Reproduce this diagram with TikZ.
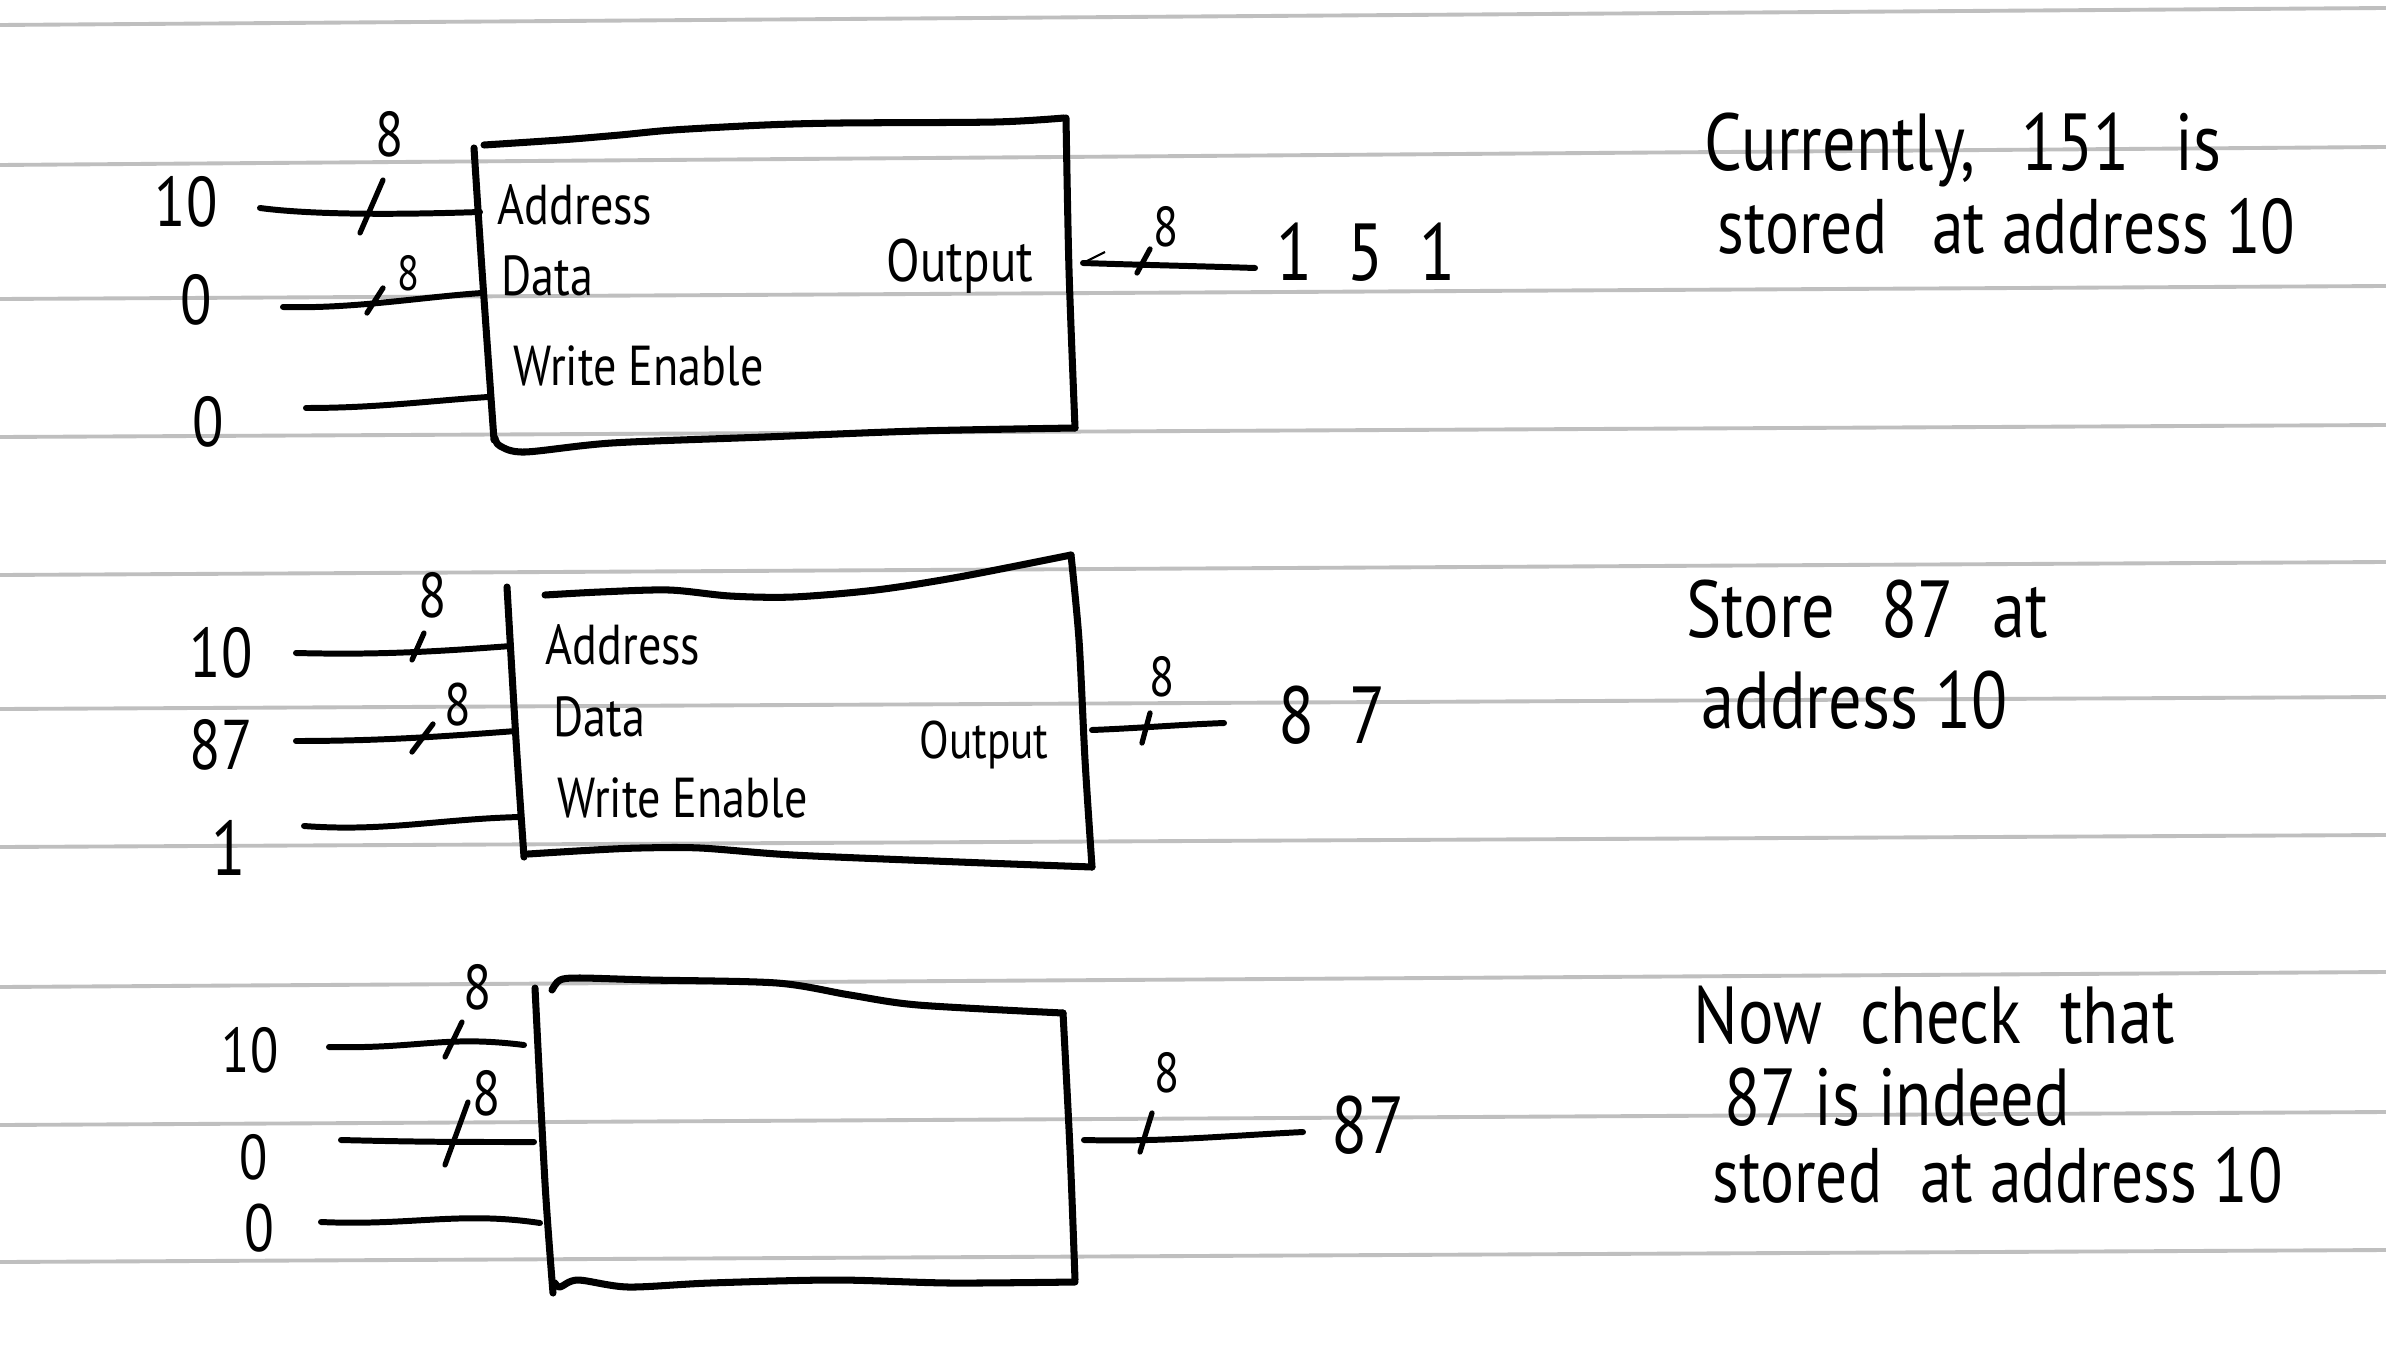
\documentclass[tikz,border=0pt]{standalone}
\usepackage{fontspec}
\newfontfamily\hand[FakeStretch=0.82]{PT Sans}
\newcommand{\fsz}[1]{\hand\fontsize{#1}{#1}\selectfont}
\begin{document}
\begin{tikzpicture}[x=0.01cm,y=-0.01cm,
  ruled/.style={draw=black!25,line width=1.1pt},
  ink/.style={line width=1.7pt,line cap=round,line join=round},
  boxline/.style={line width=2pt,line cap=round,line join=round},
  slashmark/.style={line width=1.5pt,line cap=round},
  tick/.style={line width=0.6pt},
  val/.style={inner sep=0pt,font=\fsz{20}},
  width/.style={inner sep=0pt,font=\fsz{16}},
  port/.style={inner sep=0pt,anchor=west,font=\fsz{16}},
  note/.style={inner sep=0pt,anchor=west,font=\fsz{23}}]
\useasboundingbox (0,0) rectangle (2386,1352);
\fill[white] (0,0) rectangle (2386,1352);
% ruled lines
\foreach \a/\b in {25/8,165/147,299/286,437/425,575/562,709/697,847/835,987/972,1125/1112,1262/1250}
  \draw[ruled] (0,\a) -- (2386,\b);

% ---------- Box 1 ----------
\draw[boxline] plot[smooth,tension=0.5] coordinates {(484,145) (560,140) (620,135) (673,130) (765,125) (842,123) (995,122) (1064,118)};
\draw[boxline] plot[smooth,tension=0.5] coordinates {(1066,118) (1069,270) (1075,428)};
\draw[boxline] plot[smooth,tension=0.5] coordinates {(1075,428) (918,431) (765,437) (612,443) (525,452) (500,446) (495,438)};
\draw[boxline] plot[smooth,tension=0.5] coordinates {(474,148) (482,270) (494,440)};
\coordinate (b1a) at (480,212);
\coordinate (b1b) at (482,293);
\coordinate (b1c) at (488,397);
\coordinate (b1o) at (1083,263);
\node[val] (v1a) at (186,202) {10};
\node[val] (v1b) at (196,300) {0};
\node[val] (v1c) at (208,422) {0};
\coordinate (w1a) at (260,208);
\coordinate (w1b) at (283,307);
\coordinate (w1c) at (306,408);
\draw[ink] (w1a) .. controls +(60,8) and +(-60,2) .. (b1a);
\draw[ink] (w1b) .. controls +(70,2) and +(-60,4) .. (b1b);
\draw[ink] (w1c) .. controls +(70,0) and +(-60,4) .. (b1c);
\coordinate (s1a1) at (360,233); \coordinate (s1a2) at (383,180);
\draw[slashmark] (s1a1) -- (s1a2);
\coordinate (s1b1) at (367,313); \coordinate (s1b2) at (383,288);
\draw[slashmark] (s1b1) -- (s1b2);
\node[width,font=\fsz{18}] (n1a) at (390,134) {8};
\node[width,font=\fsz{14}] (n1b) at (408,273) {8};
\node[port] (p1a) at (497,205) {Address};
\node[port] (p1b) at (501,276) {Data};
\node[port] (p1c) at (513,366) {Write Enable};
\node[port,anchor=center,font=\fsz{17}] (p1o) at (960,266) {Output};
\coordinate (o1) at (1255,268);
\draw[ink] (b1o) .. controls +(60,2) and +(-60,-2) .. (o1);
\coordinate (t1) at (1105,252);
\draw[tick] (b1o) -- (t1);
\coordinate (s1o1) at (1137,273); \coordinate (s1o2) at (1150,249);
\draw[slashmark] (s1o1) -- (s1o2);
\node[width] (n1o) at (1166,227) {8};
\node[val,font=\fsz{23}] (r1) at (1366,252) {1\kern10pt5\kern10pt1};
\node[note] (c1a) at (1704,150) {Currently,\kern8pt{} 151\kern8pt{} is};
\node[note,font=\fsz{22}] (c1b) at (1717,226) {stored\kern8pt{} at address 10};

% ---------- Box 2 ----------
\draw[boxline] plot[smooth,tension=0.5] coordinates {(545,595) (600,592) (669,590) (730,596) (793,597) (876,590) (959,577) (1071,555)};
\draw[boxline] plot[smooth,tension=0.5] coordinates {(1071,555) (1079,640) (1085,760) (1092,867)};
\draw[boxline] plot[smooth,tension=0.5] coordinates {(1092,867) (959,862) (793,855) (700,848) (640,848) (594,850) (528,854)};
\draw[boxline] plot[smooth,tension=0.5] coordinates {(507,587) (516,740) (524,857)};
\coordinate (b2a) at (511,646);
\coordinate (b2b) at (516,731);
\coordinate (b2c) at (520,817);
\coordinate (b2o) at (1092,730);
\node[val] (v2a) at (221,653) {10};
\node[val] (v2b) at (221,745) {87};
\node[val,font=\fsz{22}] (v2c) at (229,848) {1};
\coordinate (w2a) at (296,653);
\coordinate (w2b) at (296,741);
\coordinate (w2c) at (304,826);
\draw[ink] (w2a) .. controls +(80,2) and +(-80,6) .. (b2a);
\draw[ink] (w2b) .. controls +(80,0) and +(-80,6) .. (b2b);
\draw[ink] (w2c) .. controls +(80,6) and +(-80,2) .. (b2c);
\coordinate (s2a1) at (412,660); \coordinate (s2a2) at (424,633);
\draw[slashmark] (s2a1) -- (s2a2);
\coordinate (s2b1) at (412,752); \coordinate (s2b2) at (433,724);
\draw[slashmark] (s2b1) -- (s2b2);
\node[width,font=\fsz{18}] (n2a) at (433,595) {8};
\node[width,font=\fsz{17}] (n2b) at (458,705) {8};
\node[port] (p2a) at (545,645) {Address};
\node[port] (p2b) at (553,717) {Data};
\node[port] (p2c) at (557,798) {Write Enable};
\node[port,anchor=center,font=\fsz{15}] (p2o) at (984,745) {Output};
\coordinate (o2) at (1224,723);
\draw[ink] (b2o) .. controls +(50,-2) and +(-50,2) .. (o2);
\coordinate (s2o1) at (1142,743); \coordinate (s2o2) at (1150,713);
\draw[slashmark] (s2o1) -- (s2o2);
\node[width] (n2o) at (1162,677) {8};
\node[val,font=\fsz{23}] (r2) at (1332,715) {8\kern10pt7};
\node[note] (c2a) at (1686,609) {Store\kern8pt{} 87\kern6pt{} at};
\node[note] (c2b) at (1701,700) {address 10};

% ---------- Box 3 ----------
\draw[boxline] plot[smooth,tension=0.5] coordinates {(552,990) (560,980) (580,978) (650,980) (777,983) (850,995) (918,1005) (1063,1013)};
\draw[boxline] plot[smooth,tension=0.5] coordinates {(1063,1013) (1070,1150) (1075,1280)};
\draw[boxline] plot[smooth,tension=0.5] coordinates {(1075,1282) (950,1283) (835,1280) (710,1283) (628,1287) (578,1280) (560,1287) (555,1283)};
\draw[boxline] plot[smooth,tension=0.5] coordinates {(535,988) (545,1183) (553,1293)};
\coordinate (b3a) at (524,1045);
\coordinate (b3b) at (534,1142);
\coordinate (b3c) at (540,1223);
\coordinate (b3o) at (1084,1140);
\node[val,font=\fsz{18}] (v3a) at (250,1050) {10};
\node[val,font=\fsz{18}] (v3b) at (254,1157) {0};
\node[val,font=\fsz{19}] (v3c) at (259,1228) {0};
\coordinate (w3a) at (329,1047);
\coordinate (w3b) at (341,1140);
\coordinate (w3c) at (321,1222);
\draw[ink] (w3a) .. controls +(90,2) and +(-80,-10) .. (b3a);
\draw[ink] (w3b) .. controls +(80,2) and +(-80,0) .. (b3b);
\draw[ink] (w3c) .. controls +(90,4) and +(-80,-12) .. (b3c);
\coordinate (s3a1) at (445,1057); \coordinate (s3a2) at (462,1022);
\draw[slashmark] (s3a1) -- (s3a2);
\coordinate (s3b1) at (445,1165); \coordinate (s3b2) at (468,1102);
\draw[slashmark] (s3b1) -- (s3b2);
\node[width,font=\fsz{18}] (n3a) at (478,987) {8};
\node[width,font=\fsz{18}] (n3b) at (487,1093) {8};
\coordinate (o3) at (1303,1132);
\draw[ink] (b3o) .. controls +(80,2) and +(-80,4) .. (o3);
\coordinate (s3o1) at (1140,1152); \coordinate (s3o2) at (1152,1113);
\draw[slashmark] (s3o1) -- (s3o2);
\node[width] (n3o) at (1167,1073) {8};
\node[val,font=\fsz{23}] (r3) at (1368,1125) {87};
\node[note] (c3a) at (1693,1015) {Now\kern6pt{} check\kern6pt{} that};
\node[note] (c3b) at (1724,1097) {87 is indeed};
\node[note,font=\fsz{22}] (c3c) at (1712,1175) {stored\kern6pt{} at address 10};
\end{tikzpicture}
\end{document}
